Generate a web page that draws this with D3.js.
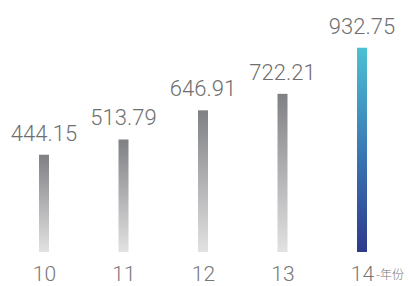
<!DOCTYPE html>
<html>
<head>
<meta charset="utf-8">
<script src="https://cdn.jsdelivr.net/npm/d3@7"></script>
<style>
  body { margin: 0; background: #fff; }
  text { font-family: Roboto, "Noto Sans", sans-serif; font-weight: 300; }
</style>
</head>
<body>
<div id="chart"></div>
<script>
// data
var years = ["10", "11", "12", "13", "14"];
var values = [444.15, 513.79, 646.91, 722.21, 932.75];
var unitLabel = "-年份";

var width = 409, height = 286;

var svg = d3.select("#chart")
  .append("svg")
  .attr("width", width)
  .attr("height", height);

// gradients for the bars
var defs = svg.append("defs");
var grey = defs.append("linearGradient")
  .attr("id", "grad-grey")
  .attr("x1", 0).attr("y1", 0).attr("x2", 0).attr("y2", 1);
grey.append("stop").attr("offset", "0%").attr("stop-color", "#7f8083");
grey.append("stop").attr("offset", "100%").attr("stop-color", "#e2e2e3");

var blue = defs.append("linearGradient")
  .attr("id", "grad-blue")
  .attr("x1", 0).attr("y1", 0).attr("x2", 0).attr("y2", 1);
blue.append("stop").attr("offset", "0%").attr("stop-color", "#4cc0d3");
blue.append("stop").attr("offset", "50%").attr("stop-color", "#3a7ab5");
blue.append("stop").attr("offset", "100%").attr("stop-color", "#2e3a8c");

var x = d3.scalePoint()
  .domain(years)
  .range([44, 362]);

var y = d3.scaleLinear()
  .domain([0, 1000])
  .range([252, 33]);

var barW = 10;

svg.selectAll(".bar")
  .data(values)
  .enter()
  .append("rect")
  .attr("class", "bar")
  .attr("x", function(d, i) { return x(years[i]) - barW / 2; })
  .attr("y", function(d) { return y(d); })
  .attr("width", barW)
  .attr("height", function(d) { return y(0) - y(d); })
  .attr("fill", function(d, i) { return i == values.length - 1 ? "url(#grad-blue)" : "url(#grad-grey)"; });

// value labels
svg.selectAll(".val")
  .data(values)
  .enter()
  .append("text")
  .attr("class", "val")
  .attr("x", function(d, i) { return x(years[i]); })
  .attr("y", function(d) { return y(d) - 14; })
  .attr("text-anchor", "middle")
  .attr("fill", "#6f6f6f")
  .style("font-size", "22px")
  .text(function(d) { return d.toFixed(2); });

// x axis
var axis = svg.append("g")
  .attr("transform", "translate(0," + y(0) + ")")
  .call(d3.axisBottom(x).tickSize(0).tickPadding(14));
axis.select(".domain").remove();
axis.selectAll("text")
  .attr("fill", "#777")
  .style("font-family", "Roboto, 'Noto Sans', sans-serif")
  .style("font-weight", 300)
  .style("font-size", "21px");

// unit label after the last tick
svg.append("text")
  .attr("x", x(years[years.length - 1]) + 14)
  .attr("y", 279)
  .attr("fill", "#777")
  .style("font-family", "'Noto Sans CJK SC', sans-serif")
  .style("font-size", "12px")
  .text(unitLabel);
</script>
</body>
</html>
